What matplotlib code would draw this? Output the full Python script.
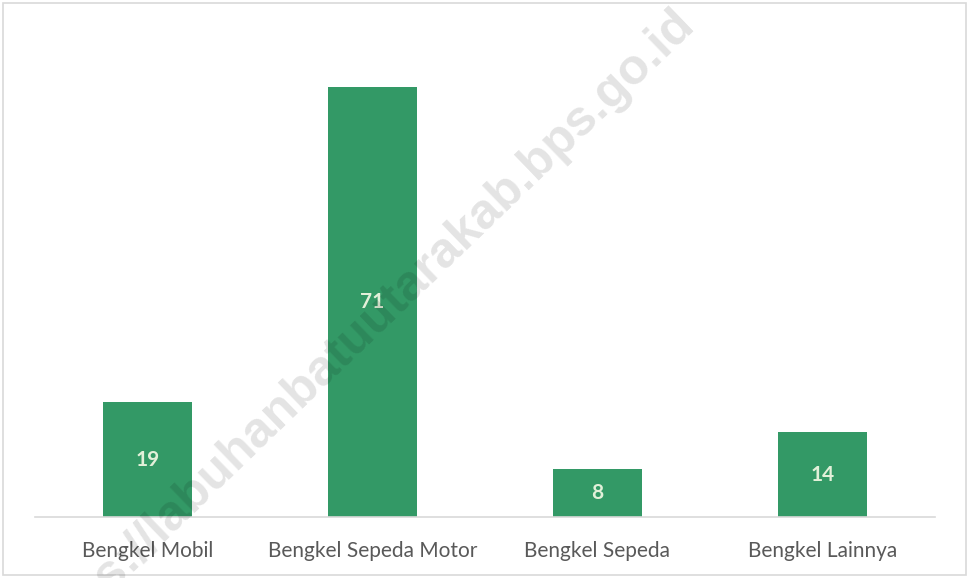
import matplotlib
matplotlib.use("Agg")
import matplotlib.pyplot as plt
from matplotlib.patches import Rectangle

categories = ["Bengkel Mobil", "Bengkel Sepeda Motor", "Bengkel Sepeda", "Bengkel Lainnya"]
values = [19, 71, 8, 14]

plt.rcParams['font.family'] = ['Lato', 'DejaVu Sans']

fig = plt.figure(figsize=(9.69, 5.78), dpi=100)
ax = fig.add_axes([35/969, 61/578, 900/969, (517-33)/578])

x = list(range(len(categories)))
bars = ax.bar(x, values, width=0.396, color="#339966", zorder=2)
for xi, v in zip(x, values):
    ax.text(xi, v/2, str(v), ha="center", va="center", color="#e2f0d9",
            fontsize=15, fontweight="bold", zorder=3)

ax.set_xlim(-0.5, 3.5)
ax.set_ylim(0, 80)
ax.patch.set_alpha(0)
for s in ["top", "right", "left"]:
    ax.spines[s].set_visible(False)
ax.spines["bottom"].set_color("#d9d9d9")
ax.spines["bottom"].set_linewidth(1.2)
ax.set_yticks([])
ax.set_xticks(x)
ax.set_xticklabels(categories, fontsize=15, color="#595959")
ax.tick_params(axis="x", length=0, pad=17)

fig.patches.append(Rectangle((3/969, 3/578), 963/969, 572/578, transform=fig.transFigure,
                             fill=False, edgecolor="#d9d9d9", linewidth=1.2))

# watermark on top with transparency
fig.text(360/969, 1-332/578, "https://labuhanbatuutarakab.bps.go.id", rotation=44,
         fontsize=36, color="black", alpha=0.11, ha="center", va="center", zorder=10,
         fontweight="bold", family=["Liberation Sans", "DejaVu Sans"])

fig.savefig("out.png", dpi=100)
